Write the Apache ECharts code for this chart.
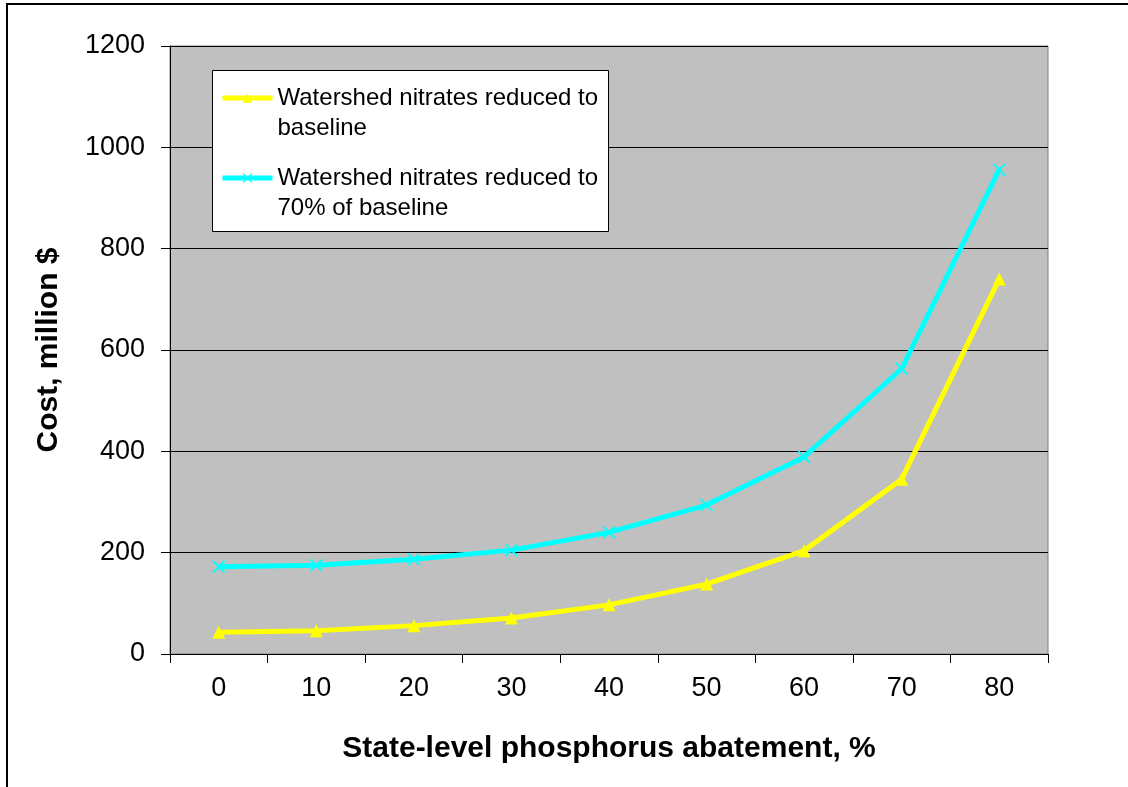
<!DOCTYPE html>
<html>
<head>
<meta charset="utf-8">
<script src="https://cdn.jsdelivr.net/npm/echarts@6/dist/echarts.min.js"></script>
<style>
html,body{margin:0;padding:0;background:#fff;}
#chart{width:1128px;height:787px;}
</style>
</head>
<body>
<div id="chart"></div>
<script>
// ---- data ----
var categories = ['0', '10', '20', '30', '40', '50', '60', '70', '80'];
var seriesNames = ['Watershed nitrates reduced to baseline', 'Watershed nitrates reduced to 70% of baseline'];
var legendLabels = ['Watershed nitrates reduced to\nbaseline', 'Watershed nitrates reduced to\n70% of baseline'];
var baselineValues = [43, 46, 56, 71, 97, 138, 204, 345, 740];
var seventyValues = [172, 175, 187, 205, 240, 294, 389, 563, 956];
var yTicks = { min: 0, max: 1200, interval: 200 };
var xTitle = 'State-level phosphorus abatement, %';
var yTitle = 'Cost, million $';

var FONT = 'Arial, "Liberation Sans", sans-serif';
var crossPath = 'path://M0,2L2,0L10,8L18,0L20,2L12,10L20,18L18,20L10,12L2,20L0,18L8,10Z';

var chart = echarts.init(document.getElementById('chart'));
var option = {
  animation: false,
  backgroundColor: '#ffffff',
  textStyle: { fontFamily: FONT },
  grid: {
    left: 170, right: 80, top: 46, bottom: 133,
    show: true, backgroundColor: '#C0C0C0', borderColor: '#808080', borderWidth: 1
  },
  graphic: [
    { type: 'rect', z: 10, silent: true,
      shape: { x: 7, y: 4, width: 1300, height: 1000 },
      style: { fill: 'none', stroke: '#000', lineWidth: 2 } },
    { type: 'rect', z: 3, silent: true,
      shape: { x: 212.5, y: 70.5, width: 396, height: 161 },
      style: { fill: '#ffffff', stroke: '#000', lineWidth: 1 } }
  ],
  legend: {
    orient: 'vertical',
    left: 220,
    top: 53,
    padding: 0,
    z: 4,
    itemGap: -10,
    itemWidth: 50,
    itemHeight: 12,
    data: seriesNames,
    lineStyle: { width: 5 },
    formatter: function (name) {
      return '\n' + legendLabels[seriesNames.indexOf(name)];
    },
    textStyle: { fontFamily: FONT, fontSize: 24, lineHeight: 30, color: '#000' }
  },
  xAxis: {
    type: 'category',
    data: categories,
    boundaryGap: true,
    name: xTitle,
    nameLocation: 'middle',
    nameGap: 80,
    nameTextStyle: { fontFamily: FONT, fontSize: 30, fontWeight: 'bold', color: '#000' },
    axisLine: { show: true, lineStyle: { color: '#000', width: 1 } },
    axisTick: { show: true, length: 9, lineStyle: { color: '#000' } },
    axisLabel: { margin: 21, fontFamily: FONT, fontSize: 27, color: '#000' },
    splitLine: { show: false }
  },
  yAxis: {
    type: 'value',
    min: yTicks.min, max: yTicks.max, interval: yTicks.interval,
    name: yTitle,
    nameLocation: 'middle',
    nameGap: 106,
    nameTextStyle: { fontFamily: FONT, fontSize: 30, fontWeight: 'bold', color: '#000' },
    axisLine: { show: true, lineStyle: { color: '#000', width: 1 } },
    axisTick: { show: true, length: 9, lineStyle: { color: '#000' } },
    axisLabel: { margin: 25, fontFamily: FONT, fontSize: 27, color: '#000',
      formatter: function (v) { return String(v); } },
    splitLine: { show: true, lineStyle: { color: '#000', width: 1 } }
  },
  series: [
    {
      name: seriesNames[0],
      type: 'line',
      data: baselineValues,
      symbol: 'triangle',
      symbolSize: 13,
      lineStyle: { color: '#FFFF00', width: 5 },
      itemStyle: { color: '#FFFF00' }
    },
    {
      name: seriesNames[1],
      type: 'line',
      data: seventyValues,
      symbol: crossPath,
      symbolSize: 13,
      lineStyle: { color: '#00FFFF', width: 5 },
      itemStyle: { color: '#00FFFF' }
    }
  ]
};
chart.setOption(option);
</script>
</body>
</html>
